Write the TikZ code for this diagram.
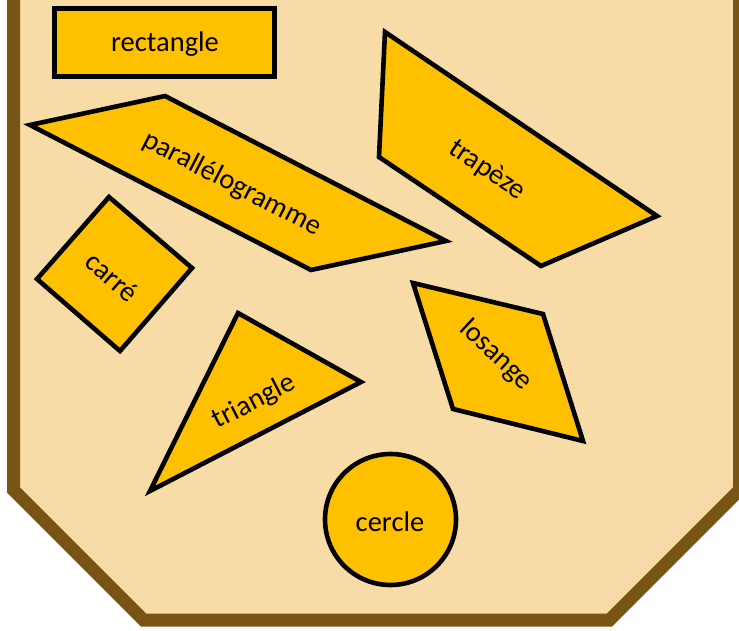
\documentclass[tikz,border=0pt]{standalone}
\usepackage{fontspec}
\setmainfont{Carlito}
\definecolor{bgtan}{HTML}{F8DCA7}
\definecolor{frame}{HTML}{785515}
\definecolor{gold}{HTML}{FFC000}
\begin{document}
\begin{tikzpicture}[x=1pt,y=-1pt,
  shapebox/.style={fill=gold,draw=black,line width=4.6pt,line join=miter},
  lbl/.style={font=\fontsize{28.5}{30}\selectfont,text=black,inner sep=0pt}]
\useasboundingbox (0,0) rectangle (739,631);
\clip (0,0) rectangle (739,631);
\fill[white] (0,0) rectangle (739,631);
% outer frame
\draw[fill=bgtan,draw=frame,line width=13pt,line join=miter]
  (13.5,-30) -- (13.5,490) -- (143.5,620) -- (609.5,620) -- (739.5,490) -- (739.5,-30) -- cycle;
% rectangle
\draw[shapebox] (54.5,8.5) rectangle (274.5,76.5);
\node[lbl] (rect) at (165,44) {rectangle};
% parallelogram
\draw[shapebox] (30,125) -- (165,96) -- (446,241) -- (311,270) -- cycle;
\node[lbl,rotate=-27.3] (para) at (232,184) {parallélogramme};
% trapezoid
\draw[shapebox] (385,32) -- (657,216) -- (541,266) -- (379,157) -- cycle;
\node[lbl,rotate=-34] (trap) at (487,170) {trapèze};
% square
\draw[shapebox] (109,197) -- (192,268) -- (120,351) -- (37,279) -- cycle;
\node[lbl,rotate=-41] (carre) at (112,277) {carré};
% triangle
\draw[shapebox] (238,313) -- (361,382) -- (150,491) -- cycle;
\node[lbl,rotate=27.3] (tri) at (254,402) {triangle};
% rhombus
\draw[shapebox] (413,283) -- (543,314) -- (583,441) -- (453,409) -- cycle;
\node[lbl,rotate=-43] (los) at (496,355) {losange};
% circle
\draw[shapebox] (390.5,519.5) circle (65.5);
\node[lbl] (cerc) at (390,522) {cercle};
\end{tikzpicture}
\end{document}
